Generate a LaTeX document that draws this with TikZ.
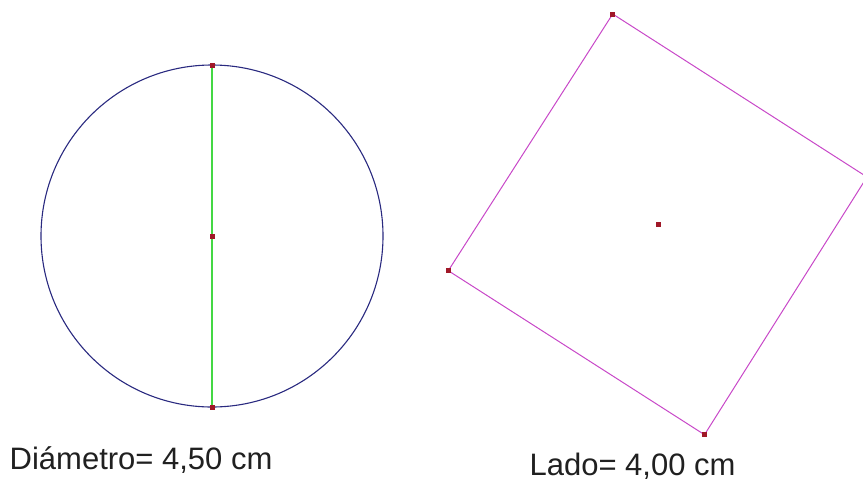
\documentclass[tikz,border=0pt]{standalone}
\usepackage{fontspec}
\setmainfont{Liberation Sans}
\definecolor{circlecol}{HTML}{2A2A80}
\definecolor{diamcol}{HTML}{44D844}
\definecolor{ptcol}{HTML}{A01828}
\definecolor{sqcol}{HTML}{C848C8}
\definecolor{txtcol}{HTML}{202020}
\begin{document}
\begin{tikzpicture}[x=1pt,y=-1pt,
  pt/.style={draw=none,fill=ptcol,rectangle,minimum size=5pt,inner sep=0pt},
  circ/.style={draw=circlecol,line width=1.1pt},
  diam/.style={draw=diamcol,line width=1.3pt},
  sq/.style={draw=sqcol,line width=1pt},
  lbl/.style={font=\fontsize{31}{36}\selectfont,text=txtcol,inner sep=0pt,anchor=base west}]
\useasboundingbox (0,0) rectangle (863,483);
\clip (0,0) rectangle (863,483);
% circle
\coordinate (cc) at (212,236);
\draw[circ] (cc) circle[radius=171];
\coordinate (dtop) at (212,65);
\coordinate (dbot) at (212,407);
\draw[diam] (dtop) -- (dbot);
\node[pt] (pc) at (cc) {};
\node[pt] (pt1) at (dtop) {};
\node[pt] (pt2) at (dbot) {};
% square
\coordinate (sA) at (612.7,14);
\coordinate (sB) at (867,177);
\coordinate (sC) at (704.5,434.7);
\coordinate (sD) at (448.3,270.7);
\coordinate (sO) at (658.5,224.3);
\draw[sq] (sA) -- (sB) -- (sC) -- (sD) -- cycle;
\node[pt] (qA) at (sA) {};
\node[pt] (qC) at (sC) {};
\node[pt] (qD) at (sD) {};
\node[pt,minimum size=4.5pt] (qO) at (sO) {};
% labels
\node[lbl] (ldiam) at (9.5,469) {Diámetro= 4,50 cm};
\node[lbl] (llado) at (529.4,475) {Lado= 4,00 cm};
\end{tikzpicture}
\end{document}
